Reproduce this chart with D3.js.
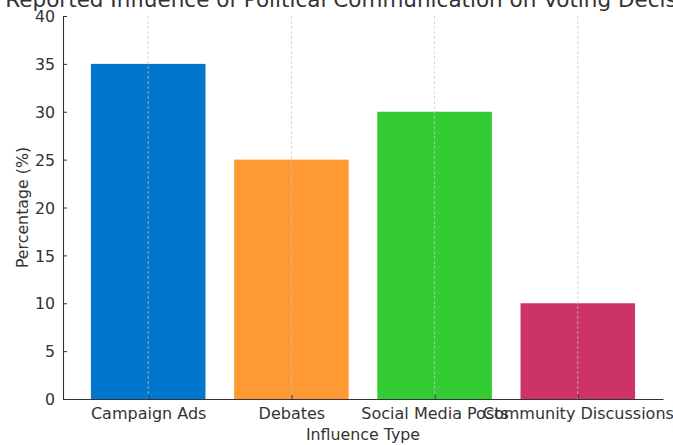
<!DOCTYPE html>
<html>
<head>
<meta charset="utf-8">
<script src="https://cdn.jsdelivr.net/npm/d3@7"></script>
<style>
  html, body { margin: 0; padding: 0; background: #fff; }
  svg { display: block; font-family: "DejaVu Sans", sans-serif; }
</style>
</head>
<body>
<svg id="chart" width="673" height="445"></svg>
<script>
// Reported influence of communication channels on voting decisions
const categories = ["Campaign Ads", "Debates", "Social Media Posts", "Community Discussions"];
const percentages = [35, 25, 30, 10];
const barColors = ["#0077cc", "#ff9933", "#33cc33", "#cc3366"];
const yTicks = [0, 5, 10, 15, 20, 25, 30, 35, 40];

const svg = d3.select("#chart");
const plot = { left: 63, right: 663, top: 16, bottom: 399 };

// Category positions on a continuous index axis, bars 0.8 wide
const x = d3.scaleLinear().domain([-0.595, categories.length - 1 + 0.595]).range([plot.left, plot.right]);
const y = d3.scaleLinear().domain([0, 40]).range([plot.bottom, plot.top]);
const barWidth = 0.8;

// Bars
svg.append("g").selectAll("rect")
  .data(categories)
  .join("rect")
  .attr("x", (d, i) => x(i - barWidth / 2))
  .attr("width", (d, i) => x(i + barWidth / 2) - x(i - barWidth / 2))
  .attr("y", (d, i) => y(percentages[i]))
  .attr("height", (d, i) => y(0) - y(percentages[i]))
  .attr("fill", (d, i) => barColors[i]);

// Vertical dashed grid at each category, over the bars
svg.append("g").selectAll("line")
  .data(categories)
  .join("line")
  .attr("x1", (d, i) => x(i)).attr("x2", (d, i) => x(i))
  .attr("y1", plot.top).attr("y2", plot.bottom)
  .attr("stroke", "#c8c8c8")
  .attr("stroke-opacity", 0.8)
  .attr("stroke-width", 0.9)
  .attr("stroke-dasharray", "3,2");

// Y axis
const yAxis = svg.append("g")
  .attr("transform", `translate(${plot.left},0)`)
  .call(d3.axisLeft(y).tickValues(yTicks).tickSizeInner(-4).tickSizeOuter(0).tickPadding(8));
yAxis.select(".domain").attr("stroke", "#333").attr("stroke-width", 1.1);
yAxis.selectAll(".tick line").attr("stroke", "#333");
yAxis.selectAll(".tick text")
  .attr("font-size", "15.8px").attr("fill", "#333")
  .attr("font-family", "DejaVu Sans").attr("dy", "0.36em");

// X axis
const xAxis = svg.append("g")
  .attr("transform", `translate(0,${plot.bottom})`)
  .call(d3.axisBottom(x).tickValues(categories.map((d, i) => i))
    .tickFormat(i => categories[i]).tickSizeInner(-4).tickSizeOuter(0).tickPadding(9));
xAxis.select(".domain").attr("stroke", "#333").attr("stroke-width", 1.1);
xAxis.selectAll(".tick line").attr("stroke", "#333");
xAxis.selectAll(".tick text")
  .attr("font-size", "16px").attr("fill", "#333")
  .attr("font-family", "DejaVu Sans");

// Axis titles
svg.append("text")
  .attr("x", (plot.left + plot.right) / 2).attr("y", 440)
  .attr("text-anchor", "middle")
  .attr("font-size", "15.8px").attr("fill", "#333")
  .text("Influence Type");

svg.append("text")
  .attr("transform", `translate(28,${(plot.top + plot.bottom) / 2}) rotate(-90)`)
  .attr("text-anchor", "middle")
  .attr("font-size", "15.8px").attr("fill", "#333")
  .text("Percentage (%)");

// Chart title
svg.append("text")
  .attr("x", (plot.left + plot.right) / 2).attr("y", 7)
  .attr("text-anchor", "middle")
  .attr("font-size", "21.5px").attr("fill", "#333")
  .text("Reported Influence of Political Communication on Voting Decisions");
</script>
</body>
</html>
